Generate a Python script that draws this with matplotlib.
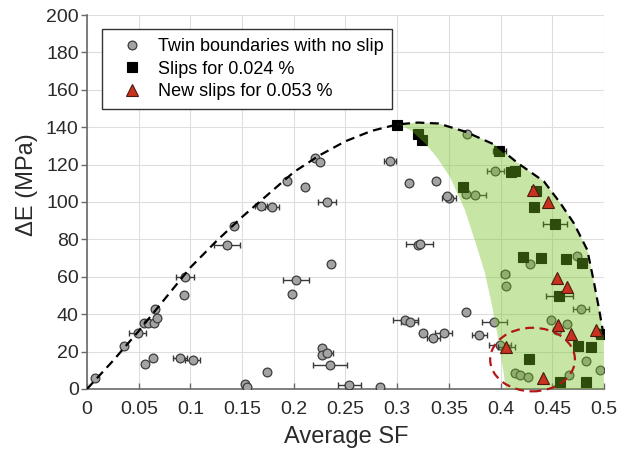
import numpy as np
import matplotlib
matplotlib.use('Agg')
import matplotlib.pyplot as plt
from matplotlib.patches import Ellipse, Polygon

plt.rcParams['font.family'] = ['Liberation Sans', 'DejaVu Sans']

# Twin boundaries with no slip (x, y, x error)
tb_sf = [0.008, 0.036, 0.049, 0.055, 0.059, 0.065, 0.066, 0.0675, 0.0565, 0.0636,
         0.090, 0.102, 0.0946, 0.094, 0.135, 0.142, 0.1525, 0.155, 0.174, 0.168,
         0.179, 0.193, 0.2106, 0.198, 0.202, 0.221, 0.2255, 0.293, 0.232, 0.236,
         0.311, 0.308, 0.312, 0.227, 0.227, 0.232, 0.235, 0.2536, 0.2836, 0.368,
         0.338, 0.35, 0.3485, 0.320, 0.322, 0.395, 0.367, 0.375, 0.404, 0.405,
         0.429, 0.474, 0.478, 0.367, 0.394, 0.325, 0.335, 0.345, 0.3796, 0.449,
         0.4545, 0.464, 0.494, 0.3995, 0.414, 0.419, 0.427, 0.466, 0.483, 0.496]
tb_de = [6, 23, 30, 35, 35, 35, 43, 38, 13.4, 16.6,
         16.6, 15.5, 60, 50, 77, 87, 2.7, 0.9, 9.3, 98,
         97.5, 111, 108, 51, 58, 123.4, 121.2, 121.8, 100, 67,
         110, 37, 35.7, 21.8, 18.2, 19.4, 12.7, 2.1, 1.1, 136.5,
         111, 102.3, 103, 76.8, 77.5, 116.6, 104.4, 103.9, 61.3, 55,
         67, 71.3, 43, 41, 36, 29.8, 27.4, 30.1, 29, 36.9,
         31.6, 34.6, 29.8, 23.5, 8.7, 7.5, 6.4, 7.3, 15, 10]
tb_err = [0, 0, 0.008, 0, 0, 0, 0, 0, 0, 0,
          0.007, 0.007, 0.009, 0, 0.0125, 0, 0, 0, 0, 0.006,
          0.007, 0, 0, 0, 0.0125, 0, 0, 0.006, 0.009, 0,
          0, 0.012, 0.008, 0, 0, 0.006, 0.016, 0.011, 0, 0,
          0, 0.007, 0, 0, 0.013, 0.008, 0, 0.011, 0.004, 0,
          0, 0, 0.0075, 0, 0.012, 0, 0.006, 0.008, 0.007, 0,
          0, 0, 0, 0.011, 0, 0, 0, 0, 0, 0]

# Slips for 0.024 %
s1_sf = [0.300, 0.320, 0.324, 0.399, 0.4105, 0.414, 0.364, 0.434, 0.432, 0.453,
         0.4218, 0.439, 0.4635, 0.4787, 0.457, 0.4974, 0.4745, 0.4874, 0.4277,
         0.4577, 0.483]
s1_de = [141, 136.5, 133.3, 127.4, 116.2, 116.7, 107.8, 106, 97.3, 88.2,
         70.7, 69.9, 69.5, 67.5, 49.7, 29.2, 23.2, 22.3, 15.9, 3.9, 3.9]
s1_err = [0, 0, 0, 0.006, 0, 0, 0, 0, 0, 0.0115,
          0, 0, 0, 0, 0.013, 0, 0, 0, 0, 0, 0]

# New slips for 0.053 %
s2_sf = [0.431, 0.4464, 0.4545, 0.464, 0.4557, 0.468, 0.4925, 0.4057, 0.441]
s2_de = [106.4, 99.8, 59.4, 54.4, 34, 29.2, 31.7, 22.5, 5.9]
s2_err = [0, 0, 0, 0, 0, 0, 0, 0.008, 0]

# dashed envelope
env_sf = [0, 0.025, 0.05, 0.075, 0.1, 0.125, 0.15, 0.175, 0.2, 0.225, 0.25, 0.275,
          0.30, 0.32, 0.34, 0.366, 0.395, 0.417, 0.442, 0.458, 0.471, 0.484,
          0.4906, 0.4955, 0.5]
env_de = [0, 15, 31, 48, 65, 79, 92, 104, 116, 125, 132.5, 138,
          141.5, 142.5, 142, 137.6, 130.5, 120.7, 111, 99.3, 88.6, 74.3,
          56.5, 42.2, 28]

# inner edge of the green zone
inner_sf = [0.301, 0.314, 0.327, 0.339, 0.351, 0.3656, 0.376, 0.385, 0.392, 0.398,
            0.403, 0.405]
inner_de = [142, 138, 131.4, 123.5, 113.5, 95.7, 78, 61.9, 44, 26.2, 8.6, 0]

xticks = np.arange(0, 0.501, 0.05)
xtick_labels = ['0', '0.05', '0.1', '0.15', '0.2', '0.25', '0.3', '0.35', '0.4', '0.45', '0.5']
yticks = np.arange(0, 201, 20)

fig = plt.figure(figsize=(6.31, 4.57), dpi=100)
ax = fig.add_axes([0.138, 0.149, 0.819, 0.818])

ax.set_xlim(0, 0.5)
ax.set_ylim(0, 200)
ax.set_xticks(xticks)
ax.set_xticklabels(xtick_labels)
ax.set_yticks(yticks)
ax.grid(True, color='#dedede', linewidth=0.8)
ax.set_axisbelow(True)
for s in ['top', 'right']:
    ax.spines[s].set_visible(False)
for s in ['left', 'bottom']:
    ax.spines[s].set_color('#6a6a6a')
    ax.spines[s].set_linewidth(1.2)
ax.tick_params(axis='x', direction='in', length=4, width=1, color='#6a6a6a',
               labelsize=14, pad=9, labelcolor='#2a2a2a')
ax.tick_params(axis='y', direction='out', length=4, width=1, color='#6a6a6a',
               labelsize=14, pad=2, labelcolor='#2a2a2a')

# error bars
ax.errorbar(tb_sf, tb_de, xerr=tb_err, fmt='none', ecolor='#3a3a3a', elinewidth=1,
            capsize=2.5, capthick=1, zorder=2.9)
ax.errorbar(s1_sf, s1_de, xerr=s1_err, fmt='none', ecolor='#222222', elinewidth=1,
            capsize=2.5, capthick=1, zorder=3.4)
ax.errorbar(s2_sf, s2_de, xerr=s2_err, fmt='none', ecolor='#3a3a3a', elinewidth=1,
            capsize=2.5, capthick=1, zorder=3.4)

ax.plot(tb_sf, tb_de, 'o', ms=6.3, mfc='#a3a3a3', mec='#3c3c3c', mew=0.9,
        zorder=3, label='Twin boundaries with no slip')
ax.plot(s1_sf, s1_de, 's', ms=7, mfc='black', mec='black', mew=0.8,
        zorder=3.5, label='Slips for 0.024 %')

# green zone on top of the markers
zone = list(zip(env_sf[12:], env_de[12:])) + [(0.5, 0)] + list(zip(inner_sf[::-1], inner_de[::-1]))
ax.add_patch(Polygon(zone, closed=True, facecolor='#75c01e', alpha=0.4,
                     edgecolor='none', zorder=4))

ax.plot(s2_sf, s2_de, '^', ms=8, mfc='#c8321e', mec='#4a1a10', mew=0.8,
        zorder=5, label='New slips for 0.053 %')

ax.plot(env_sf, env_de, color='black', lw=1.6, linestyle=(0, (4, 2.5)), zorder=6)
ax.add_patch(Ellipse((0.431, 15.7), 0.082, 34, fill=False, edgecolor='#b01818',
                     lw=1.6, linestyle=(0, (4, 2.5)), zorder=6, clip_on=False))

leg = ax.legend(loc='upper left', bbox_to_anchor=(0.028, 0.962), borderaxespad=0,
                fontsize=13, frameon=True, fancybox=False, framealpha=1,
                borderpad=0.5, handlelength=2.33, handletextpad=0.28,
                labelspacing=0.3)
leg.get_frame().set_edgecolor('#333333')
leg.get_frame().set_linewidth(1)
leg.set_zorder(10)

fig.text(27 / 631, 1 - 185 / 457, '\u0394E (MPa)', rotation=90, ha='center',
         va='center', fontsize=17, color='#2a2a2a')
fig.text(346 / 631, 1 - 437 / 457, 'Average SF', ha='center', va='center',
         fontsize=17, color='#2a2a2a')

plt.savefig('out.png', dpi=100)
